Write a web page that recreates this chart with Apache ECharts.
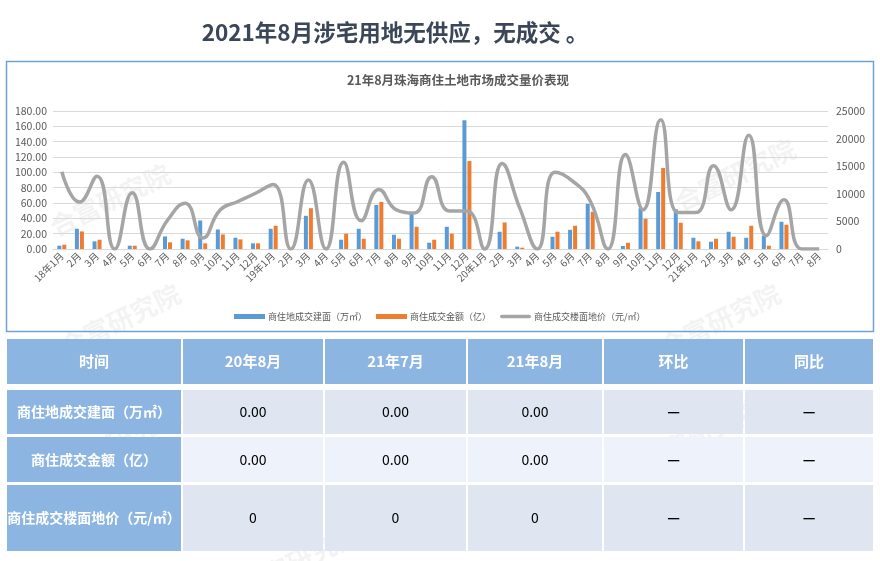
<!DOCTYPE html>
<html>
<head>
<meta charset="utf-8">
<script src="https://cdn.jsdelivr.net/npm/echarts@6/dist/echarts.min.js"></script>
<style>
html,body{margin:0;padding:0;background:#fff;}
#main{width:880px;height:561px;}
</style>
</head>
<body>
<div id="main"></div>
<script>
// ---- data ----
var categories = ['18年1月','2月','3月','4月','5月','6月','7月','8月','9月','10月','11月','12月',
  '19年1月','2月','3月','4月','5月','6月','7月','8月','9月','10月','11月','12月',
  '20年1月','2月','3月','4月','5月','6月','7月','8月','9月','10月','11月','12月',
  '21年1月','2月','3月','4月','5月','6月','7月','8月'];
var areaValues = [4.3,26.4,10,0,4.3,0,16.4,13.4,37.2,25.5,14.7,7.4,
  26.4,0,43.3,0,12.1,26.4,57.5,18.6,45.9,8.2,29,167.9,
  0,22.5,3,0,16,25.1,58.8,0,3.9,53.2,74.4,51.9,
  14.7,9.5,22.5,14.7,17.3,35.5,0,0];
var amountValues = [5.6,22.9,12.1,0,4.3,0,8.7,11.3,7.4,19,12.5,7.4,
  30.3,0,53.2,0,19.9,13.4,61.4,13.4,29,12.1,19.9,114.7,
  0,34.6,1.7,0,22.5,30.3,48.5,0,8.2,39.4,105.6,34.2,
  10,13.4,16,30.3,4.3,31.6,0,0];
var priceValues = [14000,8500,13200,0,10200,0,5200,8300,2000,7100,8600,10100,
  11700,0,12500,0,15700,5100,10800,7100,6500,13100,6900,6900,
  0,15500,7400,0,13900,12300,8700,0,17100,7100,23400,6600,
  6600,15100,7100,20600,2400,8900,0,0];
var seriesNames = ['商住地成交建面（万㎡）','商住成交金额（亿）','商住成交楼面地价（元/㎡）'];
var pageTitle = '2021年8月涉宅用地无供应，无成交 。';
var chartTitle = '21年8月珠海商住土地市场成交量价表现';
var tableHeader = ['时间','20年8月','21年7月','21年8月','环比','同比'];
var rowLabels = ['商住地成交建面（万㎡）','商住成交金额（亿）','商住成交楼面地价（元/㎡）'];
var rowArea = ['0.00','0.00','0.00','—','—'];
var rowAmount = ['0.00','0.00','0.00','—','—'];
var rowPrice = ['0','0','0','—','—'];

// ---- layout ----
var FONT = '"Noto Sans CJK SC","Noto Sans",sans-serif';
var colX = [[7,181],[183,323],[325,466],[468,602],[604,743],[745,873]];
var rowY = [[339,384],[390,434],[437,482],[485,551]];
var tableRows = [rowArea, rowAmount, rowPrice];

var graphics = [];
// watermarks
var wm = [[110,200],[735,175],[120,320],[720,320],[120,440],[700,435],[300,560]];
wm.forEach(function(p){
  graphics.push({type:'text', x:p[0], y:p[1], rotation:0.45, z:0, silent:true,
    style:{text:'合富研究院', fill:'rgba(170,170,170,0.14)', font:'bold 26px '+FONT,
      align:'center', verticalAlign:'middle', textAlign:'center', textVerticalAlign:'middle'}});
});
// page title
graphics.push({type:'text', x:395, y:32, z:10,
  style:{text:pageTitle, fill:'#3b4758', font:'bold 22.5px '+FONT,
    align:'center', verticalAlign:'middle', textAlign:'center', textVerticalAlign:'middle'}});
// chart frame
graphics.push({type:'rect', z:1, silent:true,
  shape:{x:6.5, y:61.5, width:867, height:270},
  style:{fill:'none', stroke:'#6fa3d8', lineWidth:1.5}});
// chart title
graphics.push({type:'text', x:458, y:80, z:10,
  style:{text:chartTitle, fill:'#595959', font:'bold 12.5px '+FONT,
    align:'center', verticalAlign:'middle', textAlign:'center', textVerticalAlign:'middle'}});
// table
for (var r = 0; r < rowY.length; r++) {
  for (var c = 0; c < colX.length; c++) {
    var isHead = (r === 0 || c === 0);
    var fill = isHead ? '#8cb5e1' : (r === 2 ? '#eef2fa' : '#dfe6f1');
    graphics.push({type:'rect', z:2, silent:true,
      shape:{x:colX[c][0], y:rowY[r][0], width:colX[c][1]-colX[c][0], height:rowY[r][1]-rowY[r][0]},
      style:{fill:fill}});
    var txt, font, color;
    if (r === 0) { txt = tableHeader[c]; font = 'bold 15px '+FONT; color = '#ffffff'; }
    else if (c === 0) { txt = rowLabels[r-1]; font = 'bold 14px '+FONT; color = '#ffffff'; }
    else {
      txt = tableRows[r-1][c-1];
      var dash = txt === '—';
      font = (dash ? 'bold 14px ' : '14px ') + FONT; color = '#000000';
    }
    graphics.push({type:'text', z:3, silent:true,
      x:(colX[c][0]+colX[c][1])/2, y:(rowY[r][0]+rowY[r][1])/2,
      style:{text:txt, fill:color, font:font,
        align:'center', verticalAlign:'middle', textAlign:'center', textVerticalAlign:'middle'}});
  }
}

var chart = echarts.init(document.getElementById('main'), null, {renderer:'canvas'});
chart.setOption({
  backgroundColor:'#ffffff',
  animation:false,
  textStyle:{fontFamily:FONT},
  grid:{left:53, right:52, top:111, bottom:312, containLabel:false},
  legend:{
    data:[
      {name:seriesNames[0], icon:'rect'},
      {name:seriesNames[1], icon:'rect'},
      {name:seriesNames[2], icon:'path://M2,0H33A2,2,0,0,1,33,4H2A2,2,0,0,1,2,0Z'}
    ],
    left:229, top:307, itemWidth:31, itemHeight:5, itemGap:9,
    textStyle:{fontSize:9, color:'#595959', fontFamily:FONT, padding:[0,0,0,-2]}
  },
  xAxis:{
    type:'category', data:categories,
    axisLine:{lineStyle:{color:'#d9d9d9'}},
    axisTick:{show:false},
    axisLabel:{interval:0, rotate:45, fontSize:10, color:'#595959', margin:5, fontFamily:FONT},
    splitLine:{show:false}
  },
  yAxis:[
    {type:'value', min:0, max:180, interval:20,
      axisLine:{show:false}, axisTick:{show:false},
      axisLabel:{fontSize:10.5, color:'#595959', margin:6, formatter:function(v){return v.toFixed(2);}},
      splitLine:{lineStyle:{color:'#d9d9d9', width:1}}},
    {type:'value', min:0, max:25000, interval:5000,
      axisLine:{show:false}, axisTick:{show:false},
      axisLabel:{fontSize:10.5, color:'#595959', margin:8, formatter:function(v){return String(v);}},
      splitLine:{show:false}}
  ],
  series:[
    {name:seriesNames[0], type:'bar', data:areaValues, barWidth:4, barGap:'25%',
      itemStyle:{color:'#5b9bd5'}},
    {name:seriesNames[1], type:'bar', data:amountValues, barWidth:4, barGap:'25%',
      itemStyle:{color:'#ed7d31'}},
    {name:seriesNames[2], type:'line', yAxisIndex:1, data:priceValues, smooth:0.5,
      symbol:'none', showSymbol:false,
      lineStyle:{color:'#a5a5a5', width:3.5}, itemStyle:{color:'#a5a5a5'}}
  ],
  graphic:graphics
});
</script>
</body>
</html>
